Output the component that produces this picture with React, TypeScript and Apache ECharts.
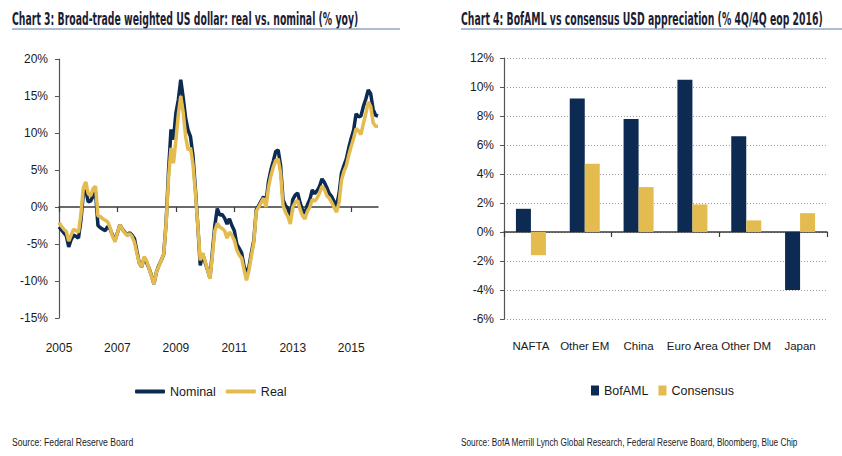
import React, { useEffect, useRef } from "react";
import * as echarts from "echarts";

// ---- Chart 3 data (monthly, Jan 2005 - Dec 2015, % yoy) ----
const months: string[] = [];
for (let y = 2005; y <= 2015; y++) {
  for (let m = 1; m <= 12; m++) months.push(`${y}-${m < 10 ? "0" + m : m}`);
}
const nominal = [
  -2.7, -3.1, -3.5, -3.9, -5.4, -4.4, -3.8, -4.0, -4.2, -1.8, 1.8, 2.3,
  0.7, 0.8, 1.5, 2.0, -2.5, -2.8, -3.0, -3.2, -2.6, -3.0, -3.8, -4.5,
  -3.5, -2.4, -3.0, -3.4, -3.8, -3.5, -3.8, -4.3, -6.0, -7.6, -8.1, -6.8,
  -7.5, -8.3, -9.3, -10.4, -8.8, -7.9, -7.2, -6.4, -2.0, 5.0, 10.5, 9.1,
  12.7, 14.5, 17.2, 14.8, 12.0, 10.4, 9.5, 7.0, 2.5, -2.5, -7.9, -6.3,
  -7.5, -8.5, -9.6, -6.0, -2.5, -0.2, -1.1, -1.0, -1.5, -2.3, -1.6, -2.5,
  -3.2, -5.0, -5.6, -6.2, -8.0, -9.0, -8.1, -6.2, -4.5, -0.4, 0.2, 0.8,
  1.4, 0.6, 3.4, 5.0, 6.2, 7.5, 7.7, 5.6, 1.0, 0.2, -0.2, -1.4,
  1.0, 1.6, 1.9, 0.6, -0.4, -0.9, 0.3, 1.0, 2.3, 1.8, 2.2, 2.8,
  3.8, 3.3, 2.6, 1.8, 1.4, 0.7, 0.2, 1.8, 4.6, 5.6, 6.5, 8.0,
  9.3, 10.4, 12.6, 12.2, 12.3, 13.6, 14.6, 15.8, 15.3, 13.2, 12.4, 12.3,
];
const real = [
  -2.1, -2.6, -3.0, -3.3, -4.6, -3.8, -3.0, -3.2, -3.4, -1.0, 2.6, 3.4,
  1.8, 1.5, 2.5, 2.8, -1.2, -1.3, -1.6, -1.8, -2.0, -2.8, -4.0, -4.7,
  -3.5, -2.4, -3.0, -3.5, -3.8, -3.6, -4.0, -4.8, -6.3, -7.6, -8.1, -6.7,
  -7.3, -8.3, -9.4, -10.4, -8.8, -8.0, -7.2, -6.4, -2.2, 4.0, 8.0, 5.9,
  9.0, 12.5, 15.0, 12.8, 9.5, 7.7, 8.0, 5.8, 2.0, -2.5, -7.2, -6.2,
  -7.3, -8.5, -9.7, -6.5, -3.2, -2.2, -2.7, -2.9, -3.2, -4.2, -3.4, -3.8,
  -4.5, -5.8, -6.5, -6.9, -8.5, -9.9, -8.6, -6.6, -4.8, -0.6, 0.0, 0.6,
  1.2, 0.0, 2.6, 4.2, 5.4, 6.3, 6.5, 4.6, 0.2, -0.7, -1.3, -2.3,
  0.0, 0.6, 0.9, -0.3, -1.2, -1.6, -0.6, 0.0, 1.0, 0.8, 1.2, 1.9,
  2.8, 2.4, 1.5, 1.2, 0.6, -0.1, -0.7, 0.6, 3.6, 4.8, 5.6, 7.0,
  8.2, 9.3, 10.6, 10.3, 9.8, 11.3, 12.6, 14.2, 13.6, 11.4, 10.9, 10.9,
];

// ---- Chart 4 data ----
const regions = ["NAFTA", "Other EM", "China", "Euro Area", "Other DM", "Japan"];
const bofaml = [1.6, 9.2, 7.8, 10.5, 6.6, -4.0];
const consensus = [-1.6, 4.7, 3.1, 1.9, 0.8, 1.3];

const title3 = "Chart 3: Broad-trade weighted US dollar: real vs. nominal (% yoy)";
const title4 = "Chart 4: BofAML vs consensus USD appreciation (% 4Q/4Q eop 2016)";
const source3 = "Source: Federal Reserve Board";
const source4 = "Source: BofA Merrill Lynch Global Research, Federal Reserve Board, Bloomberg, Blue Chip";

const NAVY = "#0c2a52";
const GOLD = "#e4bb4f";
const FONT = '"Liberation Sans", Arial, sans-serif';
const TFONT = '"DejaVu Sans Condensed", "DejaVu Sans", sans-serif';
const TXT = "#1a1a1a";

export default function App() {
  const ref = useRef<HTMLDivElement>(null);
  useEffect(() => {
    if (!ref.current) return;
    const chart = echarts.init(ref.current, undefined, { renderer: "svg" });
    const labelStyle = { color: TXT, fontSize: 12, fontFamily: FONT };
    chart.setOption({
      animation: false,
      backgroundColor: "#ffffff",
      textStyle: { fontFamily: FONT },
      grid: [
        { left: 59, top: 59, width: 319, height: 259 },
        { left: 504, top: 58, width: 323, height: 261 },
      ],
      xAxis: [
        {
          type: "category",
          gridIndex: 0,
          data: months,
          boundaryGap: false,
          position: "bottom",
          axisLine: { onZero: true, lineStyle: { color: "#3a3a3a", width: 1.5 } },
          axisTick: { show: true, length: 5, interval: (i: number) => i % 24 === 0, lineStyle: { color: "#3a3a3a", width: 1.2 } },
          axisLabel: { show: false },
          splitLine: { show: false },
        },
        {
          type: "category",
          gridIndex: 0,
          data: months,
          boundaryGap: false,
          position: "bottom",
          offset: 21,
          axisLine: { show: false, onZero: false },
          axisTick: { show: false },
          axisLabel: {
            ...labelStyle,
            margin: 3,
            interval: (i: number) => i % 24 === 0,
            formatter: (v: string) => v.slice(0, 4),
          },
          splitLine: { show: false },
        },
        {
          type: "category",
          gridIndex: 1,
          data: regions,
          position: "bottom",
          axisLine: { onZero: true, lineStyle: { color: "#3a3a3a", width: 1.5 } },
          axisTick: { show: true, length: 5, lineStyle: { color: "#3a3a3a", width: 1.2 } },
          axisLabel: { show: false },
        },
        {
          type: "category",
          gridIndex: 1,
          data: regions,
          position: "bottom",
          offset: 18,
          axisLine: { show: false, onZero: false },
          axisTick: { show: false },
          axisLabel: { ...labelStyle, fontSize: 11.5, margin: 3, interval: 0 },
        },
      ],
      yAxis: [
        {
          type: "value",
          gridIndex: 0,
          min: -15,
          max: 20,
          interval: 5,
          axisLine: { show: true, lineStyle: { color: "#555555", width: 1.2 } },
          axisTick: { show: true, length: 4, lineStyle: { color: "#555555" } },
          axisLabel: { ...labelStyle, margin: 11, formatter: (v: number) => `${v}%` },
          splitLine: { show: false },
        },
        {
          type: "value",
          gridIndex: 1,
          min: -6,
          max: 12,
          interval: 2,
          axisLine: { show: true, lineStyle: { color: "#555555", width: 1.2 } },
          axisTick: { show: true, length: 4, lineStyle: { color: "#555555" } },
          axisLabel: { ...labelStyle, margin: 10, formatter: (v: number) => `${v}%` },
          splitLine: { show: true, lineStyle: { color: "#9a9a9a", type: [1, 2], width: 1 } },
        },
      ],
      legend: [
        {
          data: ["Nominal", "Real"],
          left: 130,
          top: 380,
          icon: "roundRect",
          itemWidth: 30,
          itemHeight: 4,
          itemGap: 10,
          textStyle: { ...labelStyle, fontSize: 12.5 },
        },
        {
          data: ["BofAML", "Consensus"],
          left: 586,
          top: 379,
          itemWidth: 8,
          itemHeight: 10,
          itemGap: 10,
          textStyle: { ...labelStyle, fontSize: 12.5 },
          icon: "rect",
        },
      ],
      series: [
        {
          name: "Nominal",
          type: "line",
          xAxisIndex: 0,
          yAxisIndex: 0,
          data: nominal,
          symbol: "none",
          color: NAVY,
          lineStyle: { color: NAVY, width: 3.5 },
        },
        {
          name: "Real",
          type: "line",
          xAxisIndex: 0,
          yAxisIndex: 0,
          data: real,
          symbol: "none",
          color: GOLD,
          lineStyle: { color: GOLD, width: 3.5 },
        },
        {
          name: "BofAML",
          type: "bar",
          xAxisIndex: 2,
          yAxisIndex: 1,
          data: bofaml,
          barWidth: 15,
          barGap: "0%",
          color: NAVY,
          itemStyle: { color: NAVY },
        },
        {
          name: "Consensus",
          type: "bar",
          xAxisIndex: 2,
          yAxisIndex: 1,
          data: consensus,
          barWidth: 15,
          barGap: "0%",
          color: GOLD,
          itemStyle: { color: GOLD },
        },
      ],
      graphic: [
        {
          type: "text",
          x: 12,
          y: 19,
          scaleX: 0.61,
          style: {
            text: title3,
            fill: "#1b1d33",
            font: `bold 17px ${TFONT}`,
            textAlign: "left",
            textVerticalAlign: "middle",
            align: "left",
            verticalAlign: "middle",
          },
        },
        {
          type: "text",
          x: 461,
          y: 19,
          scaleX: 0.61,
          style: {
            text: title4,
            fill: "#1b1d33",
            font: `bold 17px ${TFONT}`,
            textAlign: "left",
            textVerticalAlign: "middle",
            align: "left",
            verticalAlign: "middle",
          },
        },
        {
          type: "line",
          shape: { x1: 12, y1: 29, x2: 400, y2: 29 },
          style: { stroke: "#8ea5c6", lineWidth: 1.5 },
        },
        {
          type: "line",
          shape: { x1: 461, y1: 29, x2: 842, y2: 29 },
          style: { stroke: "#8ea5c6", lineWidth: 1.5 },
        },
        {
          type: "text",
          x: 12,
          y: 442,
          scaleX: 0.75,
          style: {
            text: source3,
            fill: "#222222",
            font: `11.5px ${FONT}`,
            textAlign: "left",
            textVerticalAlign: "middle",
            align: "left",
            verticalAlign: "middle",
          },
        },
        {
          type: "text",
          x: 461,
          y: 442,
          scaleX: 0.72,
          style: {
            text: source4,
            fill: "#222222",
            font: `11.5px ${FONT}`,
            textAlign: "left",
            textVerticalAlign: "middle",
            align: "left",
            verticalAlign: "middle",
          },
        },
      ],
    });
    return () => chart.dispose();
  }, []);
  return (
    <div
      ref={ref}
      style={{ position: "fixed", left: 0, top: 0, width: 842, height: 456, background: "#fff" }}
    />
  );
}
